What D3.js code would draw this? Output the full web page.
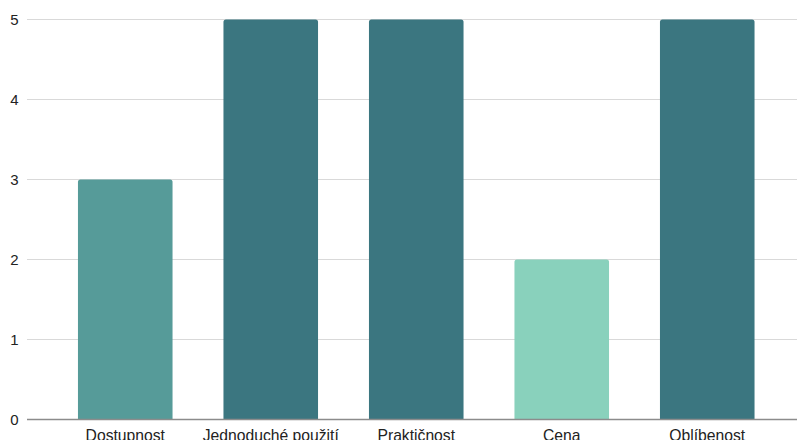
<!DOCTYPE html>
<html><head><meta charset="utf-8">
<script src="https://cdn.jsdelivr.net/npm/d3@7"></script>
<style>html,body{margin:0;padding:0;background:#fff;overflow:hidden}svg{display:block}</style>
</head><body>
<svg id="c" width="797" height="440"></svg>
<script>
const categories = ["Dostupnost","Jednoduché použití","Praktičnost","Cena","Oblíbenost"];
const values = [3,5,5,2,5];
const colors = ["#569b99","#3b7680","#3b7680","#89d1bc","#3b7680"];
const yTicks = [0,1,2,3,4,5];

const svg = d3.select("#c");
const W = 797, H = 440;
const gridLeft = 27, gridRight = 797;
const y = d3.scaleLinear().domain([0,5]).range([419.5,19.5]);
const x = d3.scaleBand().domain(categories).range([52.5,780]).paddingInner(0.35).paddingOuter(0.175);

// gridlines
svg.append("g").selectAll("line").data(yTicks.filter(d=>d!==0)).join("line")
  .attr("x1",gridLeft).attr("x2",gridRight)
  .attr("y1",d=>y(d)).attr("y2",d=>y(d))
  .attr("stroke","#d9d9d9").attr("stroke-width",1.2);

// bars with rounded top corners
const r = 2.5;
function barPath(x0,w,yt,yb){
  return `M${x0},${yb}V${yt+r}Q${x0},${yt} ${x0+r},${yt}H${x0+w-r}Q${x0+w},${yt} ${x0+w},${yt+r}V${yb}Z`;
}
svg.append("g").selectAll("path").data(categories).join("path")
  .attr("d",(d,i)=>barPath(x(d),x.bandwidth(),y(values[i]),y(0)))
  .attr("fill",(d,i)=>colors[i]);

// zero line
svg.append("line").attr("x1",gridLeft).attr("x2",gridRight)
  .attr("y1",y(0)).attr("y2",y(0)).attr("stroke","#8c8c8c").attr("stroke-width",1.3);

// y axis labels
const yAxis = d3.axisLeft(y).tickValues(yTicks).tickSize(0).tickPadding(0).tickFormat(d3.format("d"));
const ga = svg.append("g").attr("transform","translate(18.5,0)").call(yAxis);
ga.select(".domain").remove();
ga.selectAll("text").attr("font-family","Liberation Sans, Arial, sans-serif").attr("font-size",15).attr("fill","#222").attr("dy","0.33em");

// x axis labels
const xAxis = d3.axisBottom(x).tickSize(0).tickPadding(0);
const gx = svg.append("g").attr("transform","translate(0,441)").call(xAxis);
gx.select(".domain").remove();
gx.selectAll("text").attr("font-family","Liberation Sans, Arial, sans-serif").attr("font-size",15.7).attr("fill","#222").attr("dy","0").attr("y",0);
</script>
</body></html>
